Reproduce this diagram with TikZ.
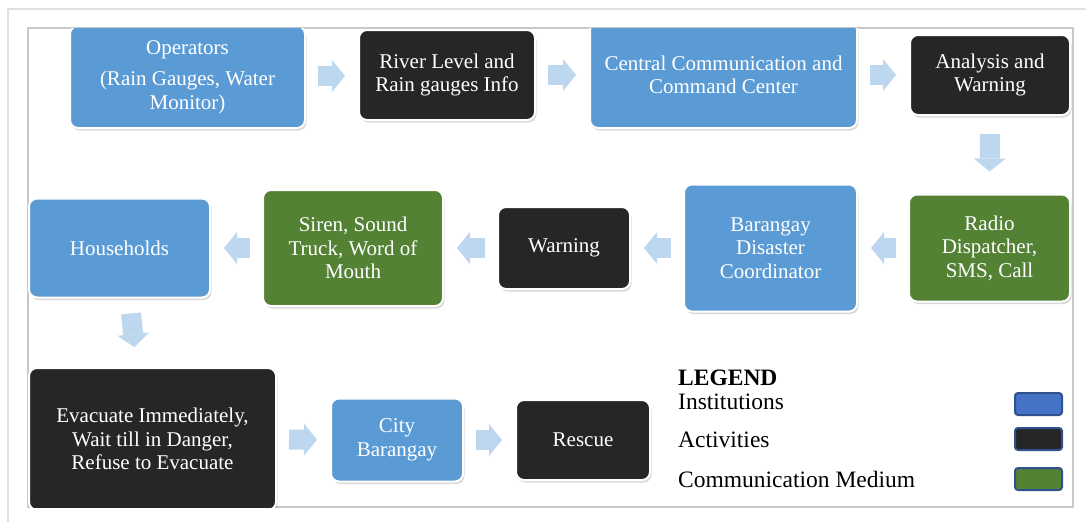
\documentclass[tikz,border=0pt]{standalone}
\usepackage{fontspec}
\setmainfont{Liberation Serif}
\usetikzlibrary{arrows.meta,shadows}
\definecolor{instblue}{HTML}{5B9BD5}
\definecolor{actblack}{HTML}{262626}
\definecolor{medgreen}{HTML}{548235}
\definecolor{arrowblue}{HTML}{BDD7EE}
\definecolor{keyblue}{HTML}{4472C4}
\definecolor{keyedge}{HTML}{2F528F}
\begin{document}
\begin{tikzpicture}[x=1pt,y=-1pt,line join=round,
    box/.style={rounded corners=8pt,draw=white,line width=2pt,text=white,align=center,inner sep=2pt,
        font=\fontsize{21}{23.5}\selectfont,
        drop shadow={shadow xshift=1.5pt,shadow yshift=-2.5pt,opacity=0.3}},
    inst/.style={box,fill=instblue},
    act/.style={box,fill=actblack},
    med/.style={box,fill=medgreen},
    flow/.style={arrowblue,line width=20pt,-{Triangle[width=32pt,length=13pt,line width=0pt]},
        shorten <=12pt,shorten >=13pt},
    key/.style={rounded corners=3pt,draw=keyedge,line width=2pt,minimum width=47pt,minimum height=22pt,inner sep=0pt},
    keytext/.style={anchor=west,inner sep=0pt,font=\fontsize{23.5}{26}\selectfont}]
        \useasboundingbox (0,0) rectangle (1086,522);
        % frames
        \draw[black!12,line width=1.2pt] (8,522)--(8,9)--(1086,9);
        \draw[black!22,line width=1.5pt] (28,28) rectangle (1073,507);
        \begin{scope}
                \clip (28,28) rectangle (1073,507);
                % first row
                \node[inst,minimum width=235,minimum height=102] (ops) at (187.5,77) {Operators\\[8pt](Rain Gauges, Water\\Monitor)};
                \node[act,minimum width=176,minimum height=90] (river) at (447,75) {River Level and\\Rain gauges Info};
                \node[inst,minimum width=267,minimum height=106] (central) at (723.5,75) {Central Communication and\\Command Center};
                \node[act,minimum width=160,minimum height=80] (analysis) at (990,75) {Analysis and\\Warning};
                % second row
                \node[med,minimum width=161,minimum height=107] (radio) at (989.5,248) {Radio\\Dispatcher,\\SMS, Call};
                \node[inst,minimum width=173,minimum height=127] (coordinator) at (770.5,248) {Barangay\\Disaster\\Coordinator};
                \node[act,minimum width=132,minimum height=82] (warning) at (564,248) {Warning};
                \node[med,minimum width=180,minimum height=116] (siren) at (353,248) {Siren, Sound\\Truck, Word of\\Mouth};
                \node[inst,minimum width=181,minimum height=99] (households) at (119.5,248) {Households};
                % third row
                \node[act,minimum width=247,minimum height=142] (evacuate) at (152.5,439) {Evacuate Immediately,\\Wait till in Danger,\\Refuse to Evacuate};
                \node[inst,minimum width=132,minimum height=83] (city) at (397,440) {City\\Barangay};
                \node[act,minimum width=134,minimum height=80] (rescue) at (583,440) {Rescue};
        \end{scope}
        \foreach \a/\b in {ops/river,river/central,central/analysis,radio/coordinator,coordinator/warning,
                warning/siren,siren/households,evacuate/city,city/rescue}
        \draw[flow] (\a) -- (\b);
        \draw[flow,shorten <=18pt,shorten >=22pt] (analysis) -- (radio);
        \draw[flow,shorten <=15pt,shorten >=20pt] ([xshift=10pt]households.south) -- ([xshift=-16pt]evacuate.north);
        % legend
        \node[keytext,font=\fontsize{23.5}{26}\selectfont\bfseries] (legend) at (678,378) {LEGEND};
        \node[keytext] (inst) at (678,402) {Institutions};
        \node[keytext] (act) at (678,440) {Activities};
        \node[keytext] (med) at (678,479) {Communication Medium};
        \node[key,fill=keyblue] (instkey) at (1038.5,404) {};
        \node[key,fill=actblack] (actkey) at (1038.5,439) {};
        \node[key,fill=medgreen] (medkey) at (1038.5,479) {};
\end{tikzpicture}
\end{document}
